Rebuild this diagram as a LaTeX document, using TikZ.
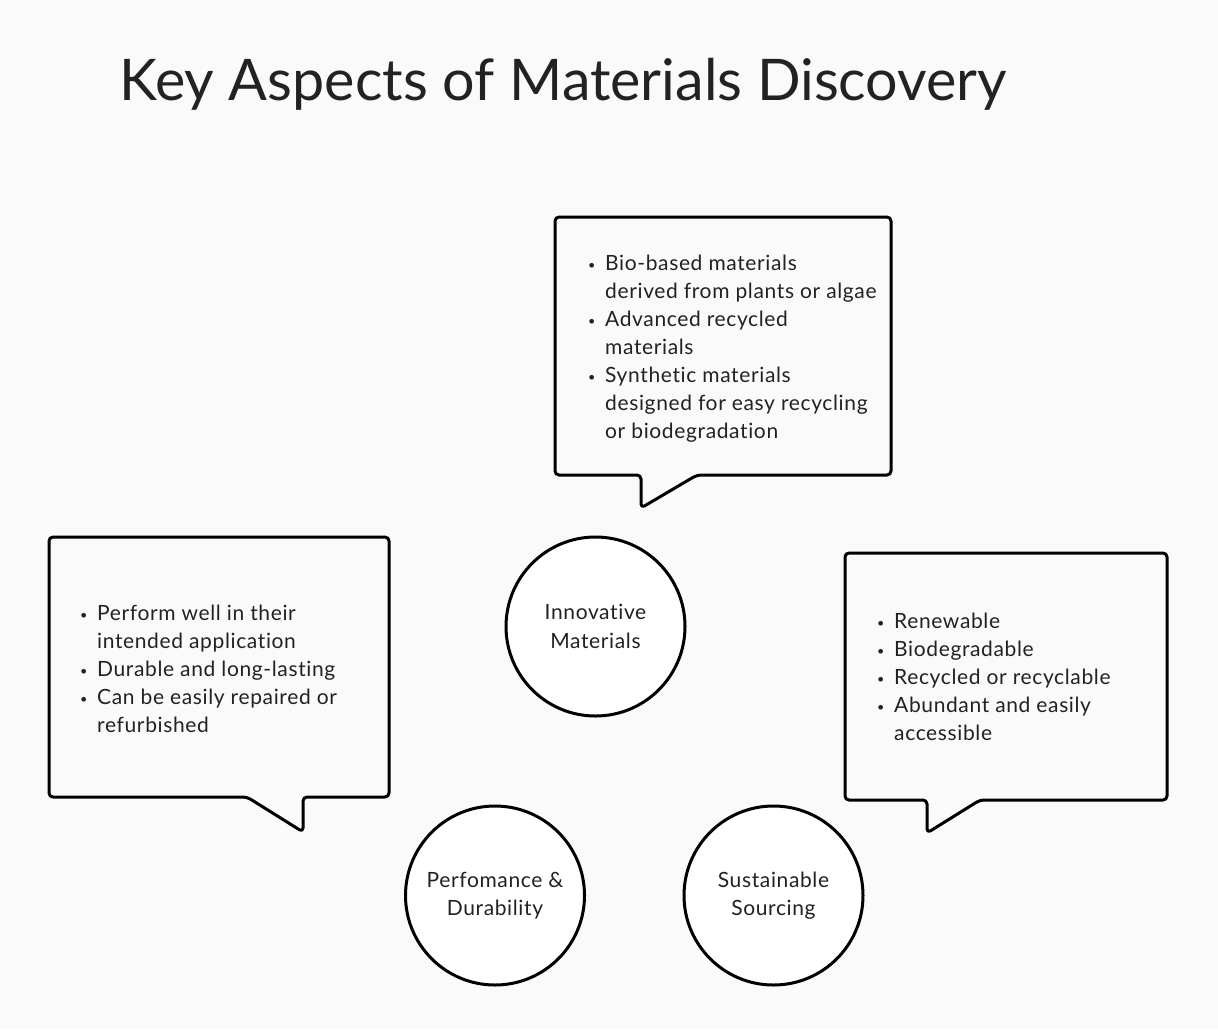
\documentclass[tikz,border=0pt]{standalone}
\usepackage{fontspec}
\setmainfont{Lato}[Ligatures=NoCommon]
\newfontfamily\bodyfont{Lato}[Ligatures=NoCommon,LetterSpace=3]
\definecolor{bg}{HTML}{FAFAFA}
\definecolor{ink}{HTML}{222222}
\begin{document}
\begin{tikzpicture}[x=1pt,y=-1pt,
  callout/.style={draw=black,line width=3pt,fill=bg,rounded corners=4pt,line join=round},
  hub/.style={draw=black,line width=3pt,fill=white,circle,minimum size=179pt,inner sep=0pt,
    font=\bodyfont\fontsize{21}{28.5}\selectfont,text=ink,align=center},
  bullets/.style={anchor=north west,inner sep=0pt,font=\bodyfont\fontsize{21}{28}\selectfont,text=ink,align=left},
]
\newcommand{\bul}{\makebox[17pt][l]{\raisebox{1.5pt}{\scalebox{0.6}{\textbullet}}}}
\newcommand{\ind}{\hspace*{17pt}}
\fill[bg] (0,0) rectangle (1218,1029);
\useasboundingbox (0,0) rectangle (1218,1029);

\node[anchor=base west,inner sep=0pt,font=\fontsize{57.4}{60}\selectfont,text=ink] (title) at (119,100) {Key Aspects of Materials Discovery};

% callouts
\draw[callout] (555,217) -- (891,217) -- (891,475) -- (697,475) -- (641,508) -- (641,475) -- (555,475) -- cycle;
\draw[callout] (49,537) -- (389,537) -- (389,797) -- (303,797) -- (303,832) -- (247,797) -- (49,797) -- cycle;
\draw[callout] (845,553) -- (1167,553) -- (1167,800) -- (980,800) -- (927,833) -- (927,800) -- (845,800) -- cycle;

\node[bullets] (top) at (588,255) {\bul Bio-based materials\\ \ind derived from plants or algae\\ \bul Advanced recycled\\ \ind materials\\ \bul Synthetic materials\\ \ind designed for easy recycling\\ \ind or biodegradation};
\node[bullets] (left) at (80,605) {\bul Perform well in their\\ \ind intended application\\ \bul Durable and long-lasting\\ \bul Can be easily repaired or\\ \ind refurbished};
\node[bullets] (right) at (877,613) {\bul Renewable\\ \bul Biodegradable\\ \bul Recycled or recyclable\\ \bul Abundant and easily\\ \ind accessible};

% hubs
\node[hub] (innov) at (595.5,626.5) {Innovative\\Materials};
\node[hub] (perf) at (495,895.5) {Perfomance \&\\Durability};
\node[hub] (sust) at (773.5,895.5) {Sustainable\\Sourcing};
\end{tikzpicture}
\end{document}
